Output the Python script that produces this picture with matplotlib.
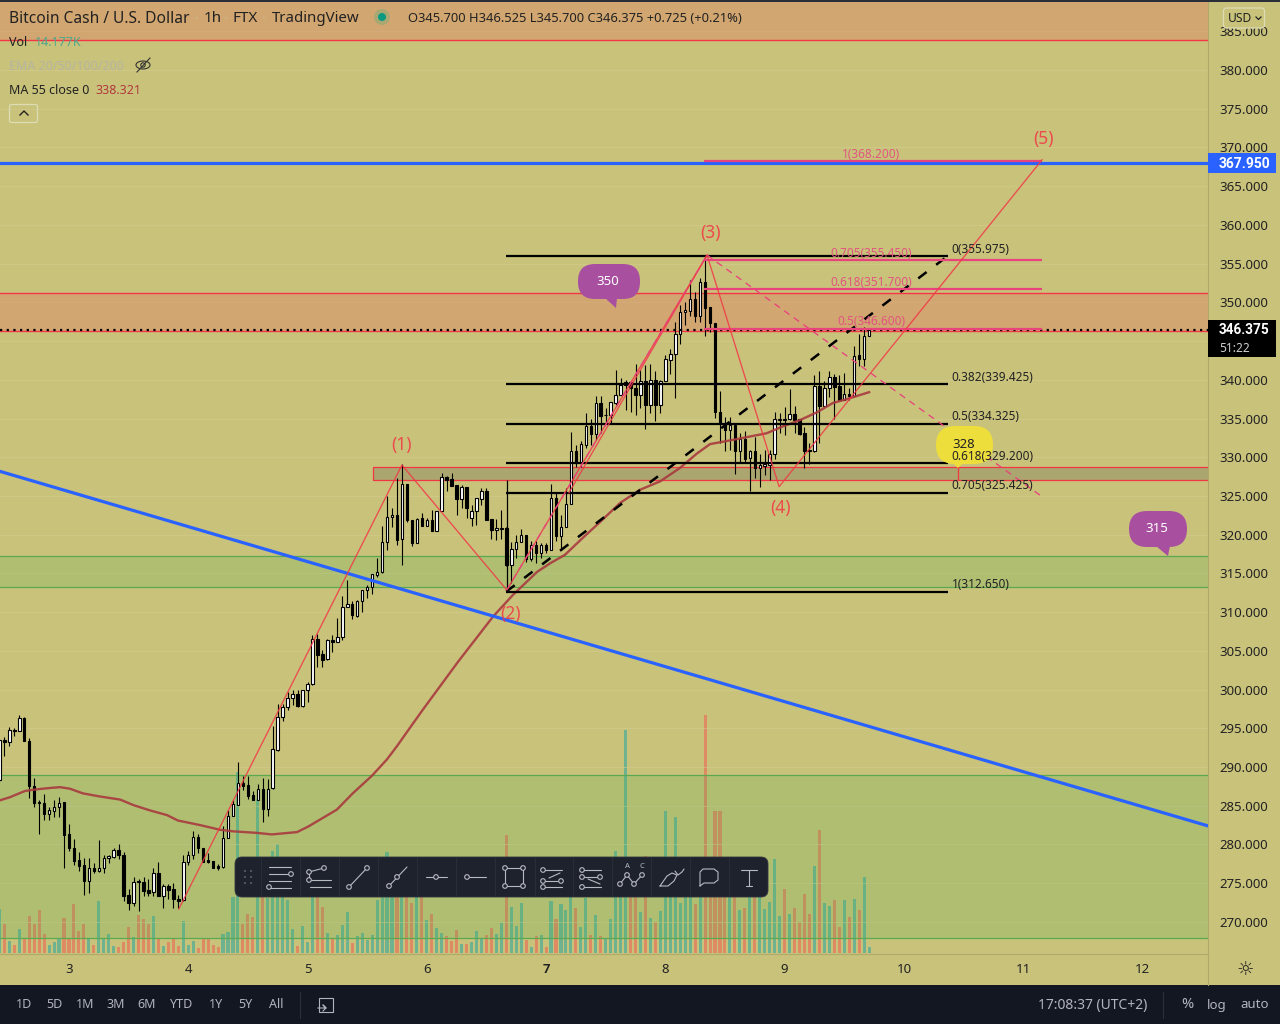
import numpy as np
import matplotlib
matplotlib.use("Agg")
from matplotlib import pyplot as plt
from matplotlib.patches import FancyBboxPatch, Rectangle, Circle, Polygon, Ellipse

plt.rcParams['font.family'] = ['Noto Sans', 'DejaVu Sans']

BG = '#c9c27b'
RED = '#f23645'
PINK = '#e8437c'
BLUE = '#2962ff'
GREEN = '#4caf50'

# hourly candles, hour 0 is the 00:00 of day 3
opens = [288.3,293.5,293.2,294.8,294.7,296.3,293.4,287.5,285.5,285.3,
         284.0,284.3,284.9,285.5,281.3,279.6,278.0,277.3,275.3,277.0,
         276.6,276.9,278.2,278.4,279.3,278.7,273.5,272.5,275.3,275.2,
         274.1,273.9,276.3,273.3,274.6,274.2,273.0,272.8,277.7,278.7,
         281.0,279.5,278.0,277.9,277.2,277.1,280.9,283.7,285.1,287.9,
         287.7,286.4,285.8,287.2,284.6,287.3,292.2,296.4,297.7,298.9,
         299.4,297.9,299.9,300.7,306.5,304.6,303.9,306.4,306.2,306.8,
         310.6,311.1,309.5,311.5,312.8,313.3,314.8,315.2,319.0,322.3,
         322.6,319.4,326.6,321.9,318.9,322.1,321.1,321.9,320.5,323.1,
         327.4,327.2,326.4,324.6,326.2,322.2,323.1,324.6,325.6,322.0,
         320.6,320.8,320.9,316.1,318.2,319.0,319.9,316.8,318.7,317.7,
         318.7,318.0,324.7,319.8,321.0,323.9,330.8,329.2,331.6,334.0,
         333.0,337.0,335.4,335.4,337.0,338.0,339.3,339.7,339.0,338.0,
         339.8,336.7,340.0,336.8,339.8,342.6,343.3,345.9,348.8,348.9,
         350.4,348.2,352.6,349.4,347.3,335.8,334.3,333.5,334.2,330.8,
         332.4,329.9,330.8,328.6,328.9,329.0,330.4,334.8,335.0,334.9,
         335.6,334.9,333.1,330.9,330.8,339.2,336.6,339.0,340.3,339.2,
         337.4,338.2,337.9,343.2,342.7,345.7]
highs = [293.6,293.9,295.2,295.0,296.75,296.45,293.8,288.6,285.8,286.5,
         284.8,285.8,286.1,285.5,282.7,280.7,279.0,278.2,278.2,277.6,
         280.6,278.7,278.7,279.6,280.0,279.0,274.3,275.8,275.6,275.8,
         275.6,276.9,277.7,274.9,274.9,275.0,273.5,278.7,279.2,281.8,
         281.3,279.5,278.9,277.9,277.5,282.4,284.4,285.8,290.6,288.8,
         288.9,286.9,287.8,288.6,288.5,295.3,298.1,298.1,299.7,300.0,
         300.0,300.0,301.0,307.1,307.2,305.1,306.5,307.1,309.3,312.1,
         314.1,311.4,311.6,312.8,313.5,314.9,317.0,321.1,325.0,323.5,
         327.3,329.1,326.6,321.9,322.2,322.8,322.2,323.2,323.1,328.0,
         327.6,328.0,326.4,326.4,326.2,323.8,324.8,326.0,326.0,322.0,
         322.0,323.2,321.0,319.1,319.9,320.7,319.9,319.2,319.2,318.9,
         318.9,326.6,325.5,322.5,326.0,333.2,331.6,332.1,335.7,335.0,
         337.9,337.9,336.3,337.1,341.3,340.2,340.0,339.9,342.1,341.3,
         341.9,342.0,341.1,340.0,343.2,344.0,347.4,349.7,350.1,352.9,
         351.4,353.1,356.1,349.4,347.3,338.5,335.2,335.2,334.2,333.1,
         333.4,331.0,332.6,330.4,331.0,330.9,335.8,335.7,336.5,338.8,
         336.6,334.9,333.9,331.9,340.6,341.1,339.9,341.1,340.7,340.6,
         340.9,339.0,344.4,345.9,346.8,346.525]
lows = [288.1,291.4,292.7,294.0,294.6,293.3,286.0,284.9,281.4,283.1,
        283.2,283.6,283.5,276.9,279.1,277.3,276.6,273.5,273.8,276.3,
        276.5,276.3,277.6,278.3,278.1,272.7,271.5,272.0,271.4,273.3,
        273.4,273.3,273.3,271.8,273.0,271.8,271.8,272.7,277.4,278.1,
        278.9,277.7,277.6,277.0,276.7,277.0,280.9,283.7,285.1,287.0,
        285.9,285.8,285.8,282.9,283.7,287.2,292.1,296.0,297.4,298.0,
        297.8,297.8,298.4,300.6,302.9,302.9,303.8,304.9,306.2,306.4,
        310.6,309.1,309.4,310.0,311.8,312.4,314.5,315.1,318.0,321.0,
        318.7,316.1,321.7,318.6,318.9,321.1,321.1,320.5,320.5,323.0,
        325.7,326.3,322.5,323.4,322.1,321.1,321.2,323.8,321.9,319.4,
        319.3,319.5,316.0,313.7,317.0,319.0,316.5,316.6,316.4,317.0,
        317.7,318.0,319.2,318.0,321.0,323.9,328.8,328.8,331.2,331.6,
        332.2,333.1,334.4,334.4,336.7,338.0,336.1,335.9,335.4,336.3,
        333.7,335.7,334.7,335.7,339.8,340.7,337.6,344.6,347.1,348.2,
        347.4,347.4,345.6,346.2,335.1,331.9,330.8,330.9,327.9,329.4,
        329.3,325.7,327.3,326.1,327.7,327.1,329.8,333.1,332.9,334.8,
        333.1,332.9,328.6,329.1,330.7,331.9,336.6,337.8,334.9,337.4,
        337.4,337.4,337.9,341.8,341.8,345.7]
closes = [293.5,293.2,294.8,294.7,296.3,293.3,287.5,285.4,285.3,284.0,
          284.4,284.9,285.4,281.2,279.5,277.9,277.2,275.3,277.0,276.6,
          276.9,278.2,278.5,279.3,278.6,273.3,272.4,275.1,275.1,274.0,
          273.8,276.3,273.3,274.6,274.1,273.0,272.7,277.7,278.7,281.0,
          279.5,277.7,277.7,277.0,277.0,280.9,283.7,285.2,287.9,287.6,
          286.3,285.8,287.2,284.6,287.2,292.3,296.5,297.7,298.9,299.4,
          297.9,299.9,300.7,306.5,304.5,303.8,306.4,306.2,306.8,310.6,
          311.1,309.6,311.5,312.8,313.3,314.9,315.2,319.0,322.3,322.6,
          319.3,326.6,321.9,318.9,322.0,321.1,321.9,320.5,323.1,327.4,
          327.0,326.3,324.6,326.1,323.4,323.1,324.7,325.6,321.9,320.6,
          320.9,320.9,316.1,318.2,319.0,319.9,316.9,318.7,317.7,318.7,
          318.0,324.7,319.8,321.0,323.9,330.8,329.2,331.7,334.0,333.0,
          337.0,335.3,335.5,337.1,338.1,339.3,339.7,339.0,338.0,339.8,
          336.7,340.0,336.8,339.8,342.7,343.3,345.9,348.8,349.0,350.4,
          348.2,352.6,349.3,347.3,335.8,334.3,333.5,334.2,330.8,332.4,
          329.8,330.8,328.6,329.0,329.1,330.4,334.9,335.0,334.8,335.6,
          334.8,333.0,330.8,330.8,339.2,336.6,339.0,340.3,339.1,337.4,
          338.2,337.9,343.1,342.7,345.6,346.375]
# volume in thousands
volumes = [104,70,28,19,57,35,87,68,102,46,
           19,26,33,83,35,116,52,70,35,19,
           123,33,46,17,14,26,61,37,90,80,
           70,87,33,17,26,35,17,76,19,28,
           12,35,35,19,14,46,50,132,427,68,
           92,85,364,160,130,241,257,150,125,57,
           17,64,26,170,150,109,47,33,42,66,
           97,24,40,47,31,42,125,140,238,140,
           150,170,133,119,133,135,78,92,59,47,
           40,28,54,21,21,26,52,35,42,59,
           45,71,279,109,64,118,31,14,40,42,
           14,123,80,116,102,140,106,61,130,42,
           90,40,33,80,241,160,526,140,150,97,
           229,83,73,99,335,160,321,118,140,133,
           116,150,562,160,335,335,140,135,140,102,
           106,135,140,135,104,120,222,87,151,92,
           106,73,139,92,205,290,118,111,125,61,
           125,85,127,102,179,14.177]

ma_hours = [-13.9,-11.9,-8.9,-6.8,-3.8,-1.8,0.2,2.8,6.2,10.3,12.9,16.3,19.7,21.9,26.4,30.4,33,37.8,40.8,45.9,
            48.1,53.9,57.1,61,64,66,69.2,71.2,78.3,85.3,89.3,94.2,96.8,99.8,103.4,106.8,110.9,114.9,119,
            122.9,126.4,129,132.4,135.6,140.4,143.7,147.1,150.5,153.7,156.5,161]
ma_values = [285.7,286.1,286.9,287.1,287.3,287.4,287.2,286.6,286.2,285.8,285.1,284.4,283.8,283.1,282.5,281.9,
             281.7,281.5,281.3,281.6,282.3,284.5,286.6,288.9,291.0,292.7,295.6,297.4,303.6,309.4,312.2,315.2,
             316.3,317.4,319.6,321.6,324.1,325.8,326.9,328.6,330.5,331.7,332.1,332.5,333.1,334.0,334.8,335.8,
             337.0,337.5,338.4]

# drawings
wave_hours = [22.1, 67, 88.1, 128.4, 142.9, 195.8]
wave_prices = [271.67, 329.0, 312.86, 356.1, 326.2, 368.4]
wave_labels = ['(1)', '(2)', '(3)', '(4)', '(5)']
channel_hours = [100.6, 128.4]
channel_prices = [325.4, 356.1]
retrace_hours = [128.4, 195.4]
retrace_prices = [356.1, 325.1]
trend_hours = [-14, 230]
trend_prices = [328.2, 282.25]
target_price = 367.95
last_price = 346.375

fib_start, fib_end = 88.0, 176.8
fib_ratios = ['0', '0.382', '0.5', '0.618', '0.705', '1']
fib_prices = [355.975, 339.425, 334.325, 329.2, 325.425, 312.65]
ext_start, ext_end = 127.8, 195.8
ext_ratios = ['1', '0.705', '0.618', '0.5']
ext_prices = [368.2, 355.45, 351.7, 346.6]

price_ticks = np.arange(270, 390, 5)
day_ticks = [3, 4, 5, 6, 7, 8, 9, 10, 11, 12]
period_labels = ['1D', '5D', '1M', '3M', '6M', 'YTD', '1Y', '5Y', 'All']
period_x = [24, 54, 85, 116, 147, 182, 216, 245, 276]

hours = np.arange(-14, 162)
o = np.array(opens)
c = np.array(closes)
up = c >= o
xlim = (-13.88, 229.2)
ylim = (265.86, 389.04)

fig = plt.figure(figsize=(12.8, 10.24), dpi=100, facecolor=BG)
rect = [0, 70 / 1024, 1208 / 1280, 954 / 1024]

# volume sits behind everything else
ax_vol = fig.add_axes(rect, zorder=1, facecolor=BG)
ax_vol.bar(hours, volumes, width=0.62, color=np.where(up, '#6fb28f', '#de8a62'), linewidth=0, antialiased=False)
ax_vol.set_xlim(xlim)
ax_vol.set_ylim(-2, 954 * 2.36)
ax_vol.axis('off')

ax = fig.add_axes(rect, zorder=2)
ax.patch.set_visible(False)

# ui overlay works in screen pixels
ui = fig.add_axes([0, 0, 1, 1], zorder=5)
ui.patch.set_visible(False)
ui.set_xlim(0, 1280)
ui.set_ylim(1024, 0)
ui.axis('off')

ax.set_axisbelow(True)
ax.grid(axis='y', color='#d3cc8e', linewidth=0.7, alpha=0.6)

# zones
ax.axhspan(383.87, 392, facecolor=RED, alpha=0.2, linewidth=0, zorder=1)
ax.axhline(383.87, color=RED, linewidth=1, zorder=1.5)
ax.axhspan(346.3, 351.2, facecolor=RED, alpha=0.2, linewidth=0, zorder=1)
ax.axhline(351.2, color=RED, linewidth=1, zorder=1.5)
ax.axhline(346.3, color=RED, linewidth=1, zorder=1.5)
ax.axhspan(313.25, 317.25, facecolor=GREEN, alpha=0.2, linewidth=0, zorder=1)
ax.axhline(317.25, color='#5aa84f', linewidth=0.9, zorder=1.5)
ax.axhline(313.25, color='#5aa84f', linewidth=0.9, zorder=1.5)
ax.axhspan(267.93, 288.97, facecolor=GREEN, alpha=0.2, linewidth=0, zorder=1)
ax.axhline(288.97, color='#5aa84f', linewidth=0.9, zorder=1.5)
ax.axhline(267.93, color='#5aa84f', linewidth=0.9, zorder=1.5)
ax.add_patch(Rectangle((61.2, 327.06), 180, 1.68, facecolor='#7e7e5f', alpha=0.4, linewidth=0, zorder=1))
ax.add_patch(Rectangle((61.2, 327.06), 180, 1.68, facecolor='none', edgecolor=RED, linewidth=0.9, zorder=1.5))
ax.vlines(178.9, 327.06, 328.74, color=RED, linewidth=0.9, zorder=1.5)

# candles
ax.vlines(hours, lows, highs, color='black', linewidth=0.8, zorder=3)
ax.bar(hours, np.abs(c - o), bottom=np.minimum(o, c), width=0.5,
       color=np.where(up, 'white', 'black'), edgecolor='black', linewidth=0.8, zorder=3.2)

ax.plot(ma_hours, ma_values, color='#a83a3e', linewidth=1.7, alpha=0.9, zorder=4)

# blue lines
ax.axhline(target_price, color=BLUE, linewidth=2.3, zorder=4)
ax.plot(trend_hours, trend_prices, color=BLUE, linewidth=2.3, zorder=4)
ax.axhline(last_price, color='black', linewidth=1.6, linestyle=(0, (1, 2)), zorder=4.2)

# fib levels
ax.hlines(fib_prices, fib_start, fib_end, color='black', linewidth=1.6, zorder=4.5)
ax.vlines(fib_start + 0.1, fib_prices[-1], 327.1, color='black', linewidth=0.9, zorder=4.5)
ax.plot([fib_start, fib_end], [fib_prices[-1], fib_prices[0]], color='black', linewidth=1.8,
        linestyle=(0, (4.2, 4.8)), zorder=4.5)
ax.hlines(ext_prices, ext_start, ext_end, color=PINK, linewidth=1.6, zorder=4.5)

# wave drawing
ax.plot(wave_hours, wave_prices, color=RED, linewidth=0.95, alpha=0.85, zorder=4.6)
ax.plot(channel_hours, channel_prices, color=RED, linewidth=0.95, alpha=0.85, zorder=4.6)
ax.plot(wave_hours[2:4], wave_prices[2:4], color=PINK, linewidth=0.95, linestyle=(0, (5, 4)), zorder=4.6)
ax.plot(retrace_hours, retrace_prices, color=PINK, linewidth=0.95, linestyle=(0, (5, 4)), zorder=4.6)

wave_offsets = [(0, 20), (4, -24), (3, 22), (1, -21), (1, 21)]
for name, hx, py, off in zip(wave_labels, wave_hours[1:], wave_prices[1:], wave_offsets):
    ax.annotate(name, (hx, py), xytext=(off[0] * 0.72, off[1] * 0.72), textcoords='offset points',
                color=RED, fontsize=12.5, ha='center', va='center', alpha=0.85, zorder=6)


def bubble(x0, y0, w, h, tail, color, label, textcolor):
    ax.add_patch(FancyBboxPatch((x0, y0), w, h, boxstyle='round,pad=0,rounding_size=%d' % (h / 2),
                                facecolor=color, edgecolor='none', transform=ui.transData, zorder=5))
    ax.add_patch(Polygon(tail, closed=True, facecolor=color, edgecolor='none',
                         transform=ui.transData, zorder=5))
    ui.text(x0 + w / 2 - 1, y0 + h / 2, label, color=textcolor, fontsize=9.5, ha='center', va='center')


bubble(578, 264, 62, 35, [(605, 298), (617, 298), (616, 308)], '#a8509f', '350', 'white')
bubble(1129, 511, 58, 36, [(1156, 546), (1170, 546), (1168, 556)], '#a8509f', '315', 'white')
bubble(936, 426, 57, 38, [(950, 460), (966, 460), (958, 468)], '#eede3c', '328', '#222222')

# fib labels go over the bubbles
for ratio, price in zip(fib_ratios, fib_prices):
    ax.annotate('%s(%.3f)' % (ratio, price), (fib_end, price), xytext=(3, 5), textcoords='offset points',
                color='#222222', fontsize=8.5, ha='left', va='center', zorder=6)
for ratio, price in zip(ext_ratios, ext_prices):
    ax.annotate('%s(%.3f)' % (ratio, price), (161.4, price), xytext=(0, 5), textcoords='offset points',
                color='#e2557f', fontsize=8.5, ha='center', va='center', zorder=6)

# axes
ax.set_xlim(xlim)
ax.set_ylim(ylim)
ax.set_yticks(price_ticks)
ax.set_yticklabels(['%.3f' % p for p in price_ticks])
ax.yaxis.tick_right()
ax.tick_params(axis='y', length=0, pad=8.5, labelsize=9.5, labelcolor='#222222')
ax.set_xticks([(d - 3) * 24 for d in day_ticks])
ax.set_xticklabels([str(d) for d in day_ticks])
ax.tick_params(axis='x', length=0, pad=6.5, labelsize=9.5, labelcolor='#222222')
ax.get_xticklabels()[4].set_fontweight('bold')
ax.get_xticklabels()[4].set_family('Roboto')
for side in ['top', 'left']:
    ax.spines[side].set_visible(False)
ax.spines['right'].set_color('#adaa6a')
ax.spines['bottom'].set_color('#adaa6a')

# header text
DARK = '#222222'
ui.fill_between([0, 1280], 0, 1.5, color='#2a2e39', linewidth=0)
ui.text(9, 19, 'Bitcoin Cash / U.S. Dollar', color=DARK, fontsize=11.2, va='center')
ui.text(204, 19, '1h', color=DARK, fontsize=11, va='center')
ui.text(233, 19, 'FTX', color=DARK, fontsize=11, va='center')
ui.text(272, 19, 'TradingView', color=DARK, fontsize=10.8, va='center')
for dot_x in [197, 226, 264]:
    ui.add_patch(Circle((dot_x, 18), 1, color='#c9b58a', linewidth=0))
ui.add_patch(Circle((382, 17), 8, color='#a9a873', linewidth=0))
ui.add_patch(Circle((382, 17), 4, color='#089981', linewidth=0))
ui.text(408, 19, 'O345.700 H346.525 L345.700 C346.375 +0.725 (+0.21%)', color=DARK, fontsize=9.3, va='center')
ui.text(9, 42.5, 'Vol', color=DARK, fontsize=9, va='center')
ui.text(35, 42.5, '14.177K', color='#4fa88c', fontsize=9, va='center')
ui.text(9, 66.5, 'EMA 20/50/100/200', color='#b5b5a0', fontsize=9, va='center')
ui.text(9, 90.5, 'MA 55 close 0', color=DARK, fontsize=9, va='center')
ui.text(96, 90.5, '338.321', color='#b23a3e', fontsize=9, va='center')
# eye off icon
ui.add_patch(Ellipse((143, 65), 14, 8, fill=False, edgecolor='#333333', linewidth=0.8))
ui.add_patch(Circle((143, 65), 2.2, fill=False, edgecolor='#333333', linewidth=0.8))
ui.plot([137, 150], [72, 58], color='#333333', linewidth=0.8)
# collapse button
ui.add_patch(FancyBboxPatch((9.5, 104.5), 28, 18, boxstyle='round,pad=0,rounding_size=2', fill=False,
                            edgecolor='#dedcb5', linewidth=0.9))
ui.plot([20, 24, 28], [115, 111, 115], color='#222222', linewidth=1)

# usd button, hides most of the top tick
ui.add_patch(FancyBboxPatch((1223.5, 8), 41, 20, boxstyle='round,pad=0,rounding_size=3', facecolor=BG,
                            edgecolor='#dedcb5', linewidth=0.9))
ui.text(1228, 18.5, 'USD', color=DARK, fontsize=8.7, va='center')
ui.plot([1256, 1258.5, 1261], [17, 19.5, 17], color=DARK, linewidth=0.9)

# price tags
ui.add_patch(Rectangle((1208, 153), 68, 20, facecolor=BLUE, linewidth=0))
ui.text(1219, 163.5, '%.3f' % target_price, color='white', fontsize=10, fontweight='bold',
        family='Roboto', va='center')
ui.add_patch(Rectangle((1208, 320), 68, 37, facecolor='black', linewidth=0))
ui.text(1219, 330.5, '%.3f' % last_price, color='white', fontsize=9.8, fontweight='bold',
        family='Roboto', va='center')
ui.text(1219, 349, '51:22', color='#cfcfcf', fontsize=8.6, va='center')

# bottom bar
ui.add_patch(Rectangle((0, 985), 1280, 39, facecolor='#131722', linewidth=0))
ui.plot([1208, 1208], [954, 985], color='#adaa6a', linewidth=0.8)
ui.text(1245, 969, '☼', color='#222222', fontsize=14, ha='center', va='center', family='DejaVu Sans')
for name, px in zip(period_labels, period_x):
    ui.text(px, 1005, name, color='#b2b5be', fontsize=9, ha='center', va='center')
ui.plot([300, 300], [992, 1018], color='#2a2e39', linewidth=0.8)
ui.plot([1163, 1163], [992, 1018], color='#2a2e39', linewidth=0.8)
ui.add_patch(Rectangle((319, 998), 14, 14, fill=False, edgecolor='#b2b5be', linewidth=0.8))
ui.plot([318, 326, 323, 326, 323], [1008, 1008, 1005, 1008, 1011], color='#b2b5be', linewidth=0.8)
ui.text(1147, 1005, '17:08:37 (UTC+2)', color='#b2b5be', fontsize=10, ha='right', va='center')
ui.text(1187, 1005, '%', color='#b2b5be', fontsize=10.5, ha='center', va='center')
ui.text(1217, 1005, 'log', color='#b2b5be', fontsize=9.5, ha='center', va='center')
ui.text(1255, 1005, 'auto', color='#b2b5be', fontsize=9.5, ha='center', va='center')

# drawing toolbar
TOOL = '#b8bac2'
ui.add_patch(FancyBboxPatch((235, 857), 533, 40, boxstyle='round,pad=0,rounding_size=7', facecolor='#1e222d',
                            edgecolor='#33363f', linewidth=0.6))
for sx in [260.5, 299.5, 339, 378, 417, 456, 495, 535, 573, 612, 651, 690, 729]:
    ui.plot([sx, sx], [858, 896], color='#2a2e39', linewidth=0.7)
for gx in [245, 251]:
    for gy in [871, 877, 883]:
        ui.add_patch(Rectangle((gx - 1, gy - 1), 2, 2, facecolor='#50535e', linewidth=0))


def tline(xs, ys):
    ui.plot(xs, ys, color=TOOL, linewidth=0.8, solid_capstyle='round')


def knob(x, y):
    ui.add_patch(Circle((x, y), 2.3, facecolor='#1e222d', edgecolor=TOOL, linewidth=0.8, zorder=3))


cy = 877
# horizontal levels
for yy in [-10, -3, 4, 11]:
    tline([269, 291], [cy + yy, cy + yy])
knob(291, cy - 3)
knob(269, cy + 10)
# fib with trend
for yy in [3, 10]:
    tline([310, 331], [cy + yy, cy + yy])
tline([309, 324], [cy - 5, cy - 9])
tline([309, 309], [cy - 5, cy + 3])
knob(309, cy - 5)
knob(324, cy - 9)
knob(309, cy + 3)
# trend line
tline([349, 367], [cy + 10, cy - 9])
knob(349, cy + 10)
knob(367, cy - 9)
# ray
tline([389, 407], [cy + 9, cy - 10])
knob(389, cy + 9)
knob(397, cy)
# horizontal line
tline([426, 447], [cy, cy])
knob(436, cy)
# horizontal ray
tline([467, 486], [cy, cy])
knob(467, cy)
# rectangle
ui.add_patch(Rectangle((505, 868), 18, 18, fill=False, edgecolor=TOOL, linewidth=0.8))
for kx, ky in [(505, 868), (523, 868), (505, 886), (523, 886)]:
    knob(kx, ky)
# channels
tline([543, 562], [870, 870])
tline([543, 562], [881, 881])
tline([543, 562], [887, 887])
tline([549, 560], [878, 873])
for kx, ky in [(543, 870), (561, 881), (543, 881), (543, 887)]:
    knob(kx, ky)
tline([582, 601], [870, 870])
tline([582, 601], [877, 877])
tline([582, 601], [887, 887])
tline([588, 600], [879, 884])
for kx, ky in [(582, 870), (600, 877), (582, 877), (582, 887)]:
    knob(kx, ky)
# abcd pattern
tline([620, 627, 634, 642], [884, 875, 884, 875])
for kx, ky in [(620, 884), (627, 875), (634, 884), (642, 875)]:
    knob(kx, ky)
ui.text(627, 867, 'A', color=TOOL, fontsize=5.5, fontweight='bold', ha='center', va='center')
ui.text(642, 867, 'C', color=TOOL, fontsize=5.5, fontweight='bold', ha='center', va='center')
# brush
tline([660, 668, 674, 677, 672, 667, 660], [886, 886, 881, 875, 873, 876, 886])
tline([675, 678, 682, 684], [871, 875, 872, 869])
# comment
tline([700, 700, 703, 714, 718, 718, 714, 704, 700], [886, 872, 869, 869, 872, 880, 883, 883, 886])
# text tool
tline([741, 757], [870, 870])
tline([749, 749], [870, 886])
tline([746, 752], [886, 886])

fig.savefig('out.png', dpi=100)
